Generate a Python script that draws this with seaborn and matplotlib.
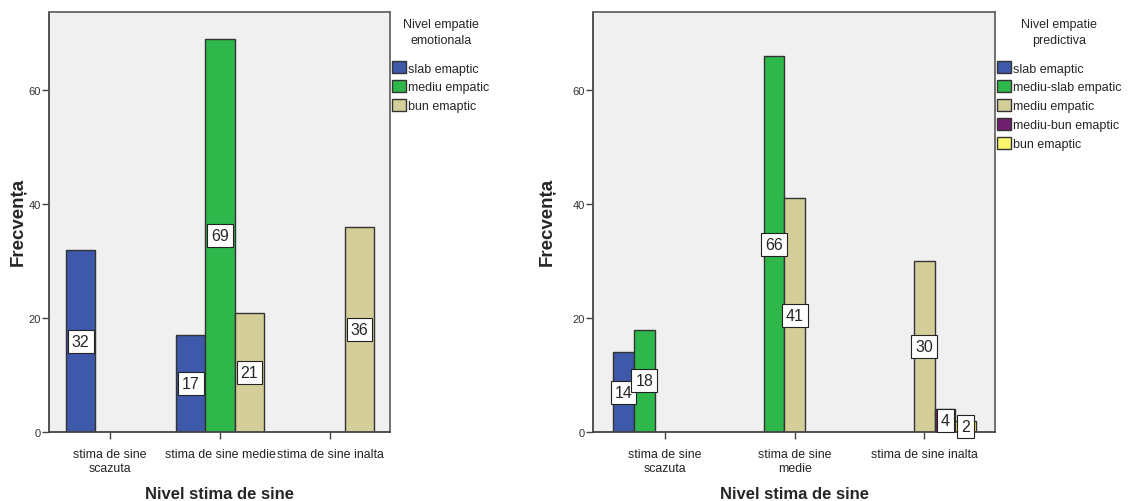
import pandas as pd
import seaborn as sns
import matplotlib.pyplot as plt
from matplotlib.patches import Patch

# ---- data ----
categories = ["stima de sine scazuta", "stima de sine medie", "stima de sine inalta"]
tick_labels_left = ["stima de sine\nscazuta", "stima de sine medie", "stima de sine inalta"]
tick_labels_right = ["stima de sine\nscazuta", "stima de sine\nmedie", "stima de sine inalta"]

emo_levels = ["slab emaptic", "mediu empatic", "bun emaptic"]
emo_cat = ["stima de sine scazuta", "stima de sine medie", "stima de sine medie",
           "stima de sine medie", "stima de sine inalta"]
emo_grp = ["slab emaptic", "slab emaptic", "mediu empatic", "bun emaptic", "bun emaptic"]
emo_val = [32, 17, 69, 21, 36]

pred_levels = ["slab emaptic", "mediu-slab empatic", "mediu empatic",
               "mediu-bun emaptic", "bun emaptic"]
pred_cat = ["stima de sine scazuta", "stima de sine scazuta", "stima de sine medie",
            "stima de sine medie", "stima de sine inalta", "stima de sine inalta",
            "stima de sine inalta"]
pred_grp = ["slab emaptic", "mediu-slab empatic", "mediu-slab empatic", "mediu empatic",
            "mediu empatic", "mediu-bun emaptic", "bun emaptic"]
pred_val = [14, 18, 66, 41, 30, 4, 2]

emo_colors = ["#3E58AA", "#2EB84B", "#D4CF99"]
pred_colors = ["#3E58AA", "#2EB84B", "#D4CF99", "#71206F", "#FAF76E"]

# ---- style ----
sns.set_style("white")
plt.rcParams["font.family"] = ["Liberation Sans", "DejaVu Sans"]

fig = plt.figure(figsize=(11.41, 5.02), dpi=100)
W, H = 1141, 502
bottom_px = 433.3
top_px = 13
ax1 = fig.add_axes([49 / W, (H - bottom_px) / H, (390 - 49) / W, (bottom_px - top_px) / H])
ax2 = fig.add_axes([593 / W, (H - bottom_px) / H, (995 - 593) / W, (bottom_px - top_px) / H])


def draw(ax, cats, grps, vals, levels, colors, ticklabels, title, legx, ylab_x):
    df = pd.DataFrame({"cat": cats, "grp": grps, "val": vals})
    sns.barplot(data=df, x="cat", y="val", hue="grp", order=categories,
                hue_order=levels, palette=colors, dodge=True, width=0.8,
                edgecolor="#333333", linewidth=1.0, legend=False, ax=ax,
                errorbar=None, saturation=1)
    ax.set_facecolor("#F0F0F0")
    ax.set_ylim(0, 73.7)
    ax.set_xlim(-0.555, 2.545)
    ax.set_yticks([0, 20, 40, 60])
    ax.tick_params(axis="y", labelsize=8, length=5, width=1, color="#444444",
                   labelcolor="#333333", pad=1, left=True)
    ax.tick_params(axis="x", labelsize=8.9, length=5, width=1, color="#444444",
                   labelcolor="#222222", pad=6, bottom=True)
    ax.set_xticks(range(len(categories)))
    ax.set_xticklabels(ticklabels, linespacing=1.3)
    for s in ax.spines.values():
        s.set_color("#666666")
        s.set_linewidth(1.3)
    ax.spines["left"].set_color("#444444")
    ax.spines["bottom"].set_color("#444444")
    ax.set_xlabel("Nivel stima de sine", fontsize=12, fontweight="bold")
    ax.xaxis.set_label_coords(0.5, -0.127)
    ax.xaxis.label.set_va("top")
    ax.set_ylabel("Frecvența", fontsize=13.5, fontweight="bold")
    ax.yaxis.set_label_coords(ylab_x, 0.502)
    for c in ax.containers:
        labels = [f"{b.get_height():g}" for b in c]
        ax.bar_label(c, labels=labels, label_type="center", fontsize=11.5,
                     bbox=dict(boxstyle="square,pad=0.25", fc="white",
                               ec="#222222", lw=0.8))
    handles = [Patch(facecolor=col, edgecolor="#333333", linewidth=1.0, label=lab)
               for col, lab in zip(colors, levels)]
    leg = ax.legend(handles=handles, title=title, loc="upper left",
                    bbox_to_anchor=(legx / W, (H - 19) / H),
                    bbox_transform=fig.transFigure, frameon=False,
                    fontsize=9, title_fontsize=9, handlelength=1.1,
                    handleheight=1.1, handletextpad=0.2, labelspacing=0.45,
                    borderpad=0, borderaxespad=0, alignment="center")
    leg.get_title().set_multialignment("center")
    leg.get_title().set_linespacing(1.45)
    leg._legend_box.sep = 11


draw(ax1, emo_cat, emo_grp, emo_val, emo_levels, emo_colors, tick_labels_left,
     "Nivel empatie\nemotionala", 392, -0.066)
draw(ax2, pred_cat, pred_grp, pred_val, pred_levels, pred_colors, tick_labels_right,
     "Nivel empatie\npredictiva", 997, -0.092)

fig.savefig("out.png", dpi=100, facecolor="white")
